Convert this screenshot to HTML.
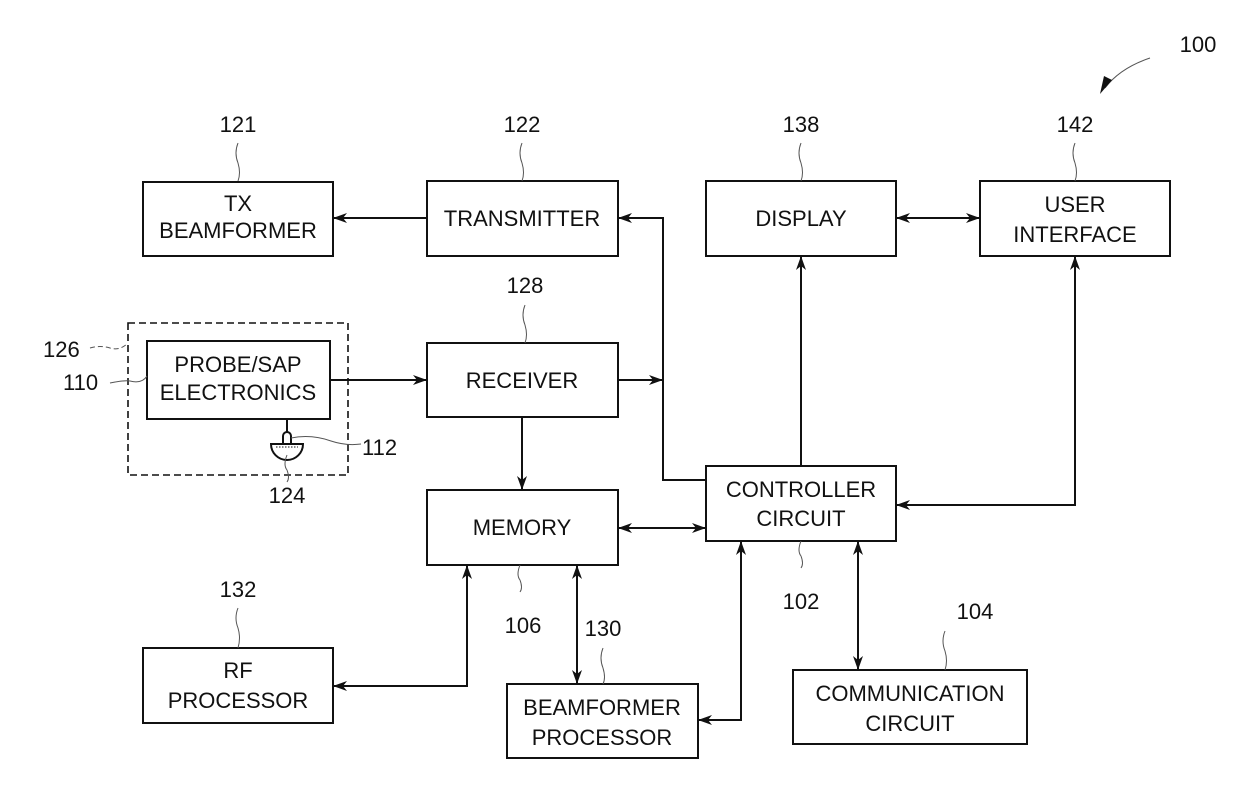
<!DOCTYPE html>
<html><head><style>
body{margin:0;background:#fff}
svg text{font-family:"Liberation Sans",Arial,sans-serif;font-size:22px;fill:#111}
</style></head><body>
<svg width="1240" height="794" viewBox="0 0 1240 794" xmlns="http://www.w3.org/2000/svg">
<defs>
<marker id="a" viewBox="0 0 14 10" refX="14" refY="5" markerWidth="14" markerHeight="10" markerUnits="userSpaceOnUse" orient="auto-start-reverse">
<path d="M0,0 L14,5 L0,10 L4,5 Z" fill="#111"/></marker>
</defs>
<g fill="none" stroke="#111" stroke-width="2">
<rect x="143" y="182" width="190" height="74"/>
<rect x="427" y="181" width="191" height="75"/>
<rect x="706" y="181" width="190" height="75"/>
<rect x="980" y="181" width="190" height="75"/>
<rect x="147" y="341" width="183" height="78"/>
<rect x="128" y="323" width="220" height="152" stroke-dasharray="7,4" stroke-width="1.6"/>
<rect x="427" y="343" width="191" height="74"/>
<rect x="427" y="490" width="191" height="75"/>
<rect x="706" y="466" width="190" height="75"/>
<rect x="143" y="648" width="190" height="75"/>
<rect x="507" y="684" width="191" height="74"/>
<rect x="793" y="670" width="234" height="74"/>
<!-- connectors -->
<path d="M427 218 H333" marker-end="url(#a)"/>
<path d="M706 480 H663 V218 H618" marker-end="url(#a)"/>
<path d="M618 380 H663" marker-end="url(#a)"/>
<path d="M330 380 H427" marker-end="url(#a)"/>
<path d="M522 417 V490" marker-end="url(#a)"/>
<path d="M618 528 H706" marker-start="url(#a)" marker-end="url(#a)"/>
<path d="M801 466 V256" marker-end="url(#a)"/>
<path d="M896 218 H980" marker-start="url(#a)" marker-end="url(#a)"/>
<path d="M896 505 H1075 V256" marker-start="url(#a)" marker-end="url(#a)"/>
<path d="M467 565 V686 H333" marker-start="url(#a)" marker-end="url(#a)"/>
<path d="M577 565 V684" marker-start="url(#a)" marker-end="url(#a)"/>
<path d="M741 541 V720 H698" marker-start="url(#a)" marker-end="url(#a)"/>
<path d="M858 541 V670" marker-start="url(#a)" marker-end="url(#a)"/>
<!-- probe -->
<path d="M287 419 V432"/>
<path d="M283 444 V436 a4 4 0 0 1 8 0 V444"/>
<path d="M271 444 H303 a16 16 0 0 1 -32 0 Z"/>
<path d="M276 447 H298" stroke-width="1" stroke-dasharray="1.5,1.5"/>
<!-- leaders -->
<g stroke-width="1" stroke="#555">
<path d="M238 143 q-4 10 0 20 q3 10 0 18"/>
<path d="M522 143 q-4 10 0 20 q3 10 0 18"/>
<path d="M801 143 q-4 10 0 20 q3 10 0 18"/>
<path d="M1075 143 q-4 10 0 20 q3 10 0 18"/>
<path d="M525 305 q-4 10 0 20 q3 10 0 18"/>
<path d="M238 608 q-4 10 0 20 q3 10 0 20"/>
<path d="M603 648 q-4 10 0 20 q3 10 0 16"/>
<path d="M945 631 q-4 10 0 20 q3 10 0 19"/>
<path d="M520 565 q-4 10 0 15 q3 8 0 12"/>
<path d="M801 541 q-4 10 0 15 q3 8 0 12"/>
<path d="M90 348 q10 -3 20 0 q10 3 18 -5" stroke-dasharray="5,3"/>
<path d="M110 383 q15 -3 20 -2 q12 3 17 -5"/>
<path d="M291 438 q20 -4 40 3 q15 5 30 3"/>
<path d="M287 455 q-4 10 0 15 q3 8 0 12"/>
<path d="M1150 58 q-30 10 -45 30"/>
</g>
</g>
<path d="M1112 80 L1100 94 L1104 76 Z" fill="#111"/>
<g text-anchor="middle">
<text x="238" y="211">TX</text><text x="238" y="238">BEAMFORMER</text>
<text x="522" y="226">TRANSMITTER</text>
<text x="801" y="226">DISPLAY</text>
<text x="1075" y="212">USER</text><text x="1075" y="242">INTERFACE</text>
<text x="238" y="372">PROBE/SAP</text><text x="238" y="400">ELECTRONICS</text>
<text x="522" y="388">RECEIVER</text>
<text x="522" y="535">MEMORY</text>
<text x="801" y="497">CONTROLLER</text><text x="801" y="526">CIRCUIT</text>
<text x="238" y="678">RF</text><text x="238" y="708">PROCESSOR</text>
<text x="602" y="715">BEAMFORMER</text><text x="602" y="745">PROCESSOR</text>
<text x="910" y="701">COMMUNICATION</text><text x="910" y="731">CIRCUIT</text>
<text x="238" y="132">121</text><text x="522" y="132">122</text>
<text x="801" y="132">138</text><text x="1075" y="132">142</text>
<text x="525" y="293">128</text><text x="238" y="597">132</text>
<text x="603" y="636">130</text><text x="975" y="619">104</text>
<text x="523" y="633">106</text><text x="801" y="609">102</text>
<text x="287" y="503">124</text>
<text x="1198" y="52">100</text>
</g>
<text x="43" y="357">126</text>
<text x="63" y="390">110</text>
<text x="362" y="455">112</text>
</svg>
</body></html>
